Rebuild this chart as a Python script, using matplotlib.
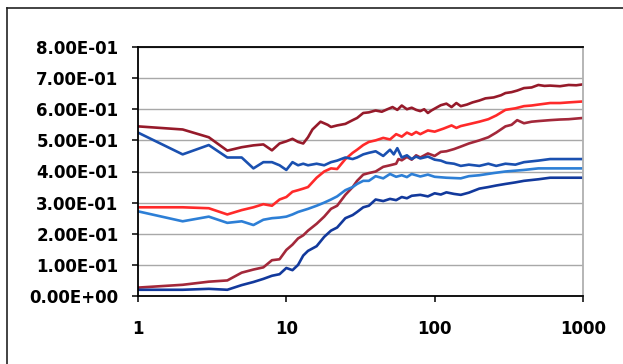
import matplotlib
matplotlib.use("Agg")
import matplotlib.pyplot as plt
from matplotlib.ticker import FixedLocator, NullLocator, FuncFormatter
from matplotlib.lines import Line2D

# ---- data ----
xa = [1,2,3,4,5,6,7,8,9,10,11,12,13,14,15,17,19,20,22,25,28,30,33,36,40,44,48,52,56,60,65,70,75,80,85,90,95,100,110,120,130,140,150,165,180,200,220,250,280,300,330,360,400,450,500,550,600,700,800,900,1000]
ya = [.545,.535,.51,.467,.478,.484,.487,.468,.49,.497,.505,.495,.49,.51,.535,.56,.55,.543,.548,.553,.565,.572,.588,.59,.596,.592,.60,.607,.598,.612,.60,.605,.598,.594,.60,.588,.596,.602,.613,.618,.607,.62,.61,.615,.622,.628,.635,.638,.645,.652,.655,.66,.668,.67,.678,.675,.676,.674,.678,.677,.68]

xb = [1,2,3,4,5,6,7,8,9,10,11,12,13,14,16,18,20,22,25,28,30,33,36,40,45,50,55,60,65,70,75,80,90,100,115,130,140,150,170,200,230,260,300,350,400,450,500,600,700,800,1000]
yb = [.285,.285,.282,.262,.276,.285,.295,.29,.31,.318,.335,.34,.345,.35,.38,.40,.41,.408,.44,.46,.47,.485,.495,.50,.508,.503,.52,.512,.525,.518,.527,.52,.532,.528,.538,.548,.54,.546,.552,.56,.568,.58,.598,.603,.61,.612,.615,.62,.62,.622,.625]

xc = [1,2,3,4,5,6,7,8,9,10,11,12,13,14,16,18,20,22,25,28,30,33,36,40,45,50,55,57,60,65,70,75,80,90,100,110,120,135,150,170,200,230,260,300,330,360,400,450,500,600,700,800,1000]
yc = [.027,.036,.046,.05,.075,.085,.092,.115,.118,.148,.165,.185,.195,.21,.232,.255,.28,.29,.325,.35,.37,.39,.395,.40,.415,.42,.425,.44,.436,.447,.438,.452,.445,.458,.45,.463,.465,.472,.48,.49,.50,.51,.525,.545,.55,.565,.555,.56,.562,.565,.567,.568,.572]

xd = [1,2,3,4,5,6,7,8,9,10,11,12,13,14,16,18,20,22,25,28,30,33,36,40,45,50,53,56,60,65,70,75,80,90,100,110,120,135,150,170,200,230,260,300,350,400,500,600,700,800,1000]
yd = [.525,.455,.485,.445,.445,.41,.43,.43,.42,.405,.43,.42,.425,.42,.425,.42,.43,.435,.445,.44,.445,.455,.46,.465,.45,.47,.455,.475,.445,.452,.44,.448,.442,.448,.438,.435,.428,.425,.418,.422,.418,.425,.418,.425,.422,.43,.435,.44,.44,.44,.44]

xe = [1,2,3,4,5,6,7,8,9,10,11,12,14,16,18,20,22,25,28,30,33,36,40,45,50,55,60,65,70,80,90,100,120,150,170,200,250,300,400,500,600,700,800,1000]
ye = [.272,.24,.255,.235,.24,.228,.245,.25,.252,.255,.262,.27,.28,.29,.30,.31,.32,.34,.35,.36,.37,.37,.385,.378,.392,.383,.388,.382,.392,.384,.39,.383,.38,.378,.385,.388,.395,.40,.405,.41,.41,.41,.41,.41]

xf = [1,2,3,4,5,6,7,8,9,10,11,12,13,14,16,18,20,22,25,28,30,33,36,40,45,50,55,60,65,70,80,90,100,110,120,135,150,170,200,230,260,300,350,400,500,600,700,800,1000]
yf = [.02,.02,.023,.02,.035,.045,.055,.065,.07,.09,.083,.10,.13,.145,.16,.19,.21,.22,.25,.26,.27,.285,.29,.31,.305,.312,.308,.318,.314,.322,.325,.32,.33,.326,.333,.328,.325,.332,.345,.35,.355,.36,.365,.37,.375,.38,.38,.38,.38]

x_ticks = [1, 10, 100, 1000]
x_tick_labels = ["1", "10", "100", "1000"]
y_ticks = [0.0, 0.1, 0.2, 0.3, 0.4, 0.5, 0.6, 0.7, 0.8]

series = [
    (xa, ya, "#961a2a"),
    (xb, yb, "#ff2a2a"),
    (xc, yc, "#a3283a"),
    (xd, yd, "#1a50b0"),
    (xe, ye, "#2d7fd6"),
    (xf, yf, "#12399c"),
]

# ---- figure ----
W, H = 623, 364
fig = plt.figure(figsize=(W / 100, H / 100), dpi=100)
fig.patch.set_facecolor("white")
ax = fig.add_axes([138 / W, 1 - 296 / H, (583 - 138) / W, (296 - 47) / H])

for xs, ys, c in series:
    ax.plot(xs, ys, color=c, lw=1.9, solid_joinstyle="round")

ax.set_xscale("log")
ax.set_xlim(1, 1000)
ax.set_ylim(0, 0.8)
ax.xaxis.set_major_locator(FixedLocator(x_ticks))
ax.xaxis.set_minor_locator(NullLocator())
ax.set_xticklabels(x_tick_labels)
ax.yaxis.set_major_locator(FixedLocator(y_ticks))
ax.yaxis.set_major_formatter(FuncFormatter(lambda v, p: "%.2E" % v))

ax.grid(axis="y", color="#a8a8a8", lw=1.0)
ax.set_axisbelow(True)

for s in ["left", "bottom", "top"]:
    ax.spines[s].set_color("black")
    ax.spines[s].set_linewidth(1.3)
ax.spines["right"].set_color("#b0b0b0")
ax.spines["right"].set_linewidth(1.3)

ax.tick_params(axis="y", direction="out", length=4, width=1.1, pad=10,
               labelsize=12)
ax.tick_params(axis="x", direction="out", length=4, width=1.1, pad=13,
               labelsize=12)
for lab in ax.get_xticklabels() + ax.get_yticklabels():
    lab.set_fontweight("bold")
    lab.set_family("DejaVu Sans")

# outer frame (left and top edges visible)
fig.add_artist(Line2D([7 / W, 7 / W], [0, 1 - 8 / H], transform=fig.transFigure,
                      color="#222222", lw=1.2))
fig.add_artist(Line2D([7 / W, 1], [1 - 8 / H, 1 - 8 / H], transform=fig.transFigure,
                      color="#222222", lw=1.2))

fig.savefig("out.png", dpi=100)
